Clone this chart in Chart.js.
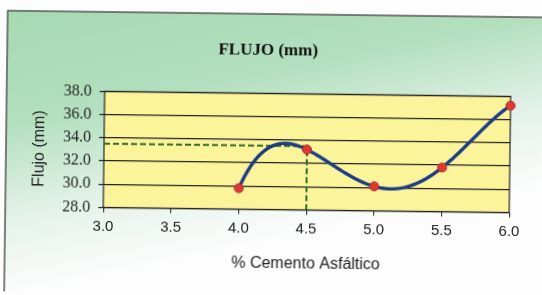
<!DOCTYPE html>
<html>
<head>
<meta charset="utf-8">
<script src="https://cdn.jsdelivr.net/npm/chart.js@4.4.1/dist/chart.umd.min.js"></script>
<style>
  html, body { margin: 0; padding: 0; background: #fdfdfd; overflow: hidden; }
  #wrap { width: 542px; height: 295px; transform: rotate(0.72deg); transform-origin: 50% 50%; }
</style>
</head>
<body>
<div id="wrap"><canvas id="flujoChart" width="542" height="295"></canvas></div>
<script>
// data
const cementoPct = [4.0, 4.5, 5.0, 5.5, 6.0];
const flujoMm = [29.8, 33.2, 30.1, 31.8, 37.2];

// dashed guide at the optimum asphalt content
const guideX = [3.0, 4.5, 4.5];
const guideY = [33.5, 33.5, 28.0];

const xTicks = [3.0, 3.5, 4.0, 4.5, 5.0, 5.5, 6.0];
const yTicks = [28.0, 30.0, 32.0, 34.0, 36.0, 38.0];

const points = cementoPct.map((x, i) => ({ x: x, y: flujoMm[i] }));
const guide = guideX.map((x, i) => ({ x: x, y: guideY[i] }));

// order 4 polynomial trendline through the points (like the Excel chart)
function trendAt(x) {
  let sum = 0;
  for (let i = 0; i < cementoPct.length; i++) {
    let term = flujoMm[i];
    for (let j = 0; j < cementoPct.length; j++) {
      if (j !== i) term *= (x - cementoPct[j]) / (cementoPct[i] - cementoPct[j]);
    }
    sum += term;
  }
  return sum;
}

const backdrop = {
  id: "backdrop",
  beforeDraw(chart) {
    const { ctx, chartArea: a } = chart;
    ctx.save();
    ctx.fillStyle = "#fdfdfd";
    ctx.fillRect(0, 0, chart.width, chart.height);
    const g = ctx.createLinearGradient(0, 14, 60, 290);
    g.addColorStop(0, "#a6d9b2");
    g.addColorStop(0.4, "#b3dfbe");
    g.addColorStop(0.72, "#e3f2e9");
    g.addColorStop(1, "#fdfdfd");
    ctx.fillStyle = g;
    ctx.fillRect(6, 14, chart.width, chart.height);
    ctx.strokeStyle = "#555";
    ctx.lineWidth = 1.5;
    ctx.beginPath();
    ctx.moveTo(6, chart.height + 5);
    ctx.lineTo(6, 14);
    ctx.lineTo(chart.width + 5, 14);
    ctx.stroke();
    ctx.fillStyle = "#fbf49b";
    ctx.fillRect(a.left, a.top, a.right - a.left, a.bottom - a.top);
    ctx.restore();
  },
  beforeDatasetsDraw(chart) {
    const { ctx, chartArea: a } = chart;
    ctx.save();
    ctx.strokeStyle = "#222";
    ctx.lineWidth = 1.2;
    ctx.strokeRect(a.left, a.top, a.right - a.left, a.bottom - a.top);
    ctx.restore();
  },
  afterDatasetDraw(chart, args) {
    if (args.index !== 1) return;
    const { ctx } = chart;
    const xs = chart.scales.x, ys = chart.scales.y;
    const x0 = cementoPct[0], x1 = cementoPct[cementoPct.length - 1];
    ctx.save();
    ctx.strokeStyle = "#1d3c84";
    ctx.lineWidth = 3.4;
    ctx.lineJoin = "round";
    ctx.beginPath();
    for (let k = 0; k <= 200; k++) {
      const x = x0 + (x1 - x0) * k / 200;
      const px = xs.getPixelForValue(x), py = ys.getPixelForValue(trendAt(x));
      if (k === 0) ctx.moveTo(px, py); else ctx.lineTo(px, py);
    }
    ctx.stroke();
    ctx.restore();
  }
};

new Chart(document.getElementById("flujoChart"), {
  type: "line",
  data: {
    datasets: [
      {
        label: "Flujo",
        data: points,
        showLine: false,
        pointRadius: 4.5,
        pointBackgroundColor: "#dc3a2e",
        pointBorderColor: "#b52a3c",
        pointBorderWidth: 1,
        clip: false,
        order: 1
      },
      {
        label: "guia",
        data: guide,
        borderColor: "#2f6a2a",
        borderWidth: 2,
        borderDash: [6, 3],
        pointRadius: 0,
        tension: 0,
        order: 2
      }
    ]
  },
  options: {
    responsive: false,
    animation: false,
    devicePixelRatio: 1,
    layout: { padding: { left: 0, right: 8, top: 0, bottom: 0 } },
    plugins: {
      legend: { display: false },
      tooltip: { enabled: false },
      title: {
        display: true,
        text: "FLUJO (mm)",
        color: "#111",
        font: { family: "Liberation Serif", size: 17, weight: "bold" },
        padding: { top: 40, bottom: 33 }
      }
    },
    scales: {
      x: {
        type: "linear",
        min: 3.0,
        max: 6.0,
        afterFit: (s) => { s.height = 85.5; },
        afterBuildTicks: (s) => { s.ticks = xTicks.map(v => ({ value: v })); },
        ticks: {
          color: "#222",
          padding: 5,
          font: { family: "Liberation Sans", size: 15 },
          callback: (v) => Number(v).toFixed(1)
        },
        grid: { drawOnChartArea: false, drawTicks: true, tickLength: 5, color: "#222" },
        border: { display: false },
        title: {
          display: true,
          text: "% Cemento Asfáltico",
          color: "#222",
          font: { family: "Liberation Sans", size: 16 },
          padding: { top: 0, bottom: 22 }
        }
      },
      y: {
        type: "linear",
        min: 28.0,
        max: 38.0,
        afterFit: (s) => { s.width = 104; },
        afterBuildTicks: (s) => { s.ticks = yTicks.map(v => ({ value: v })); },
        ticks: {
          color: "#222",
          padding: 8,
          font: { family: "Liberation Serif", size: 16 },
          callback: (v) => Number(v).toFixed(1)
        },
        grid: { color: "#222", lineWidth: 1.2, tickLength: 5 },
        border: { display: false },
        title: {
          display: true,
          text: "Flujo (mm)",
          color: "#222",
          font: { family: "Liberation Sans", size: 16 },
          padding: { top: 30, bottom: 0 }
        }
      },
      // empty right-hand spacer so the plot ends where it does in the picture
      ySpacer: {
        type: "linear",
        position: "right",
        afterFit: (s) => { s.width = 24; },
        ticks: { display: false },
        grid: { display: false },
        border: { display: false }
      }
    }
  },
  plugins: [backdrop]
});
</script>
</body>
</html>
